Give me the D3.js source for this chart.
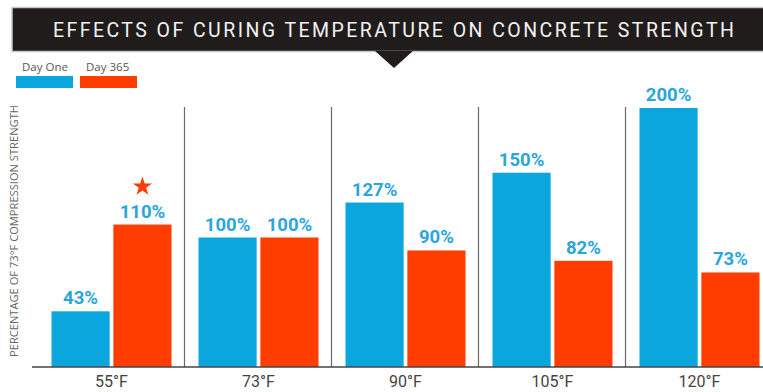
<!DOCTYPE html>
<html>
<head>
<meta charset="utf-8">
<script src="https://cdn.jsdelivr.net/npm/d3@7"></script>
<style>
  html, body { margin: 0; padding: 0; background: #fff; }
  svg { display: block; }
</style>
</head>
<body>
<svg id="chart" width="763" height="392"></svg>
<script>
// Curing temperatures and strength relative to a 73°F cure
const categories = ["55°F", "73°F", "90°F", "105°F", "120°F"];
const dayOne = [43, 100, 127, 150, 200];
const day365 = [110, 100, 90, 82, 73];
const seriesNames = ["Day One", "Day 365"];
const starredIndex = 0; // day-365 bar that gets the star marker

const titleText = "EFFECTS OF CURING TEMPERATURE ON CONCRETE STRENGTH";
const yAxisTitle = "PERCENTAGE OF 73°F COMPRESSION STRENGTH";

const blue = "#0ba6de";
const red = "#ff3d00";
const labelBlue = "#2aa6dc";

const svg = d3.select("#chart");

// Title banner with pointer
const banner = svg.append("g");
banner.append("rect")
  .attr("x", 12).attr("y", 7.5).attr("width", 760).attr("height", 44)
  .attr("fill", "#201c1c").attr("stroke", "#c9c9c9").attr("stroke-width", 1.5);
banner.append("path")
  .attr("d", d3.line()([[375, 51], [413, 51], [394, 68]]))
  .attr("fill", "#201c1c");
banner.append("text")
  .attr("x", 53).attr("y", 37)
  .attr("textLength", 681).attr("lengthAdjust", "spacing")
  .attr("font-family", "Roboto, sans-serif").attr("font-size", 19.5)
  .attr("fill", "#f2f2f2")
  .text(titleText);

// Legend
const legend = svg.append("g");
[[16, blue], [80, red]].forEach(([x, c], i) => {
  legend.append("rect").attr("x", x).attr("y", 76).attr("width", 57).attr("height", 12).attr("fill", c);
  legend.append("text").attr("x", x + 6).attr("y", 71)
    .attr("font-family", "'Open Sans', sans-serif").attr("font-size", 11.5)
    .attr("fill", "#555").text(seriesNames[i]);
});

// Scales
const x = d3.scaleBand().domain(categories).range([38, 773]);
const y = d3.scaleLinear().domain([0, 200]).range([367, 108]);
const inner = d3.scaleBand().domain(seriesNames).range([-60, 60]).paddingInner(0.06);

// Group separators
svg.append("g").selectAll("line")
  .data(categories.slice(1))
  .join("line")
  .attr("x1", d => x(d) - 0.5).attr("x2", d => x(d) - 0.5)
  .attr("y1", 107).attr("y2", 367)
  .attr("stroke", "#6a6a6a").attr("stroke-width", 1.2);

// Bars and value labels
const rows = categories.map((c, i) => [
  { cat: c, s: seriesNames[0], v: dayOne[i], color: blue, i },
  { cat: c, s: seriesNames[1], v: day365[i], color: red, i }
]).flat();

const barX = d => x(d.cat) + x.bandwidth() / 2 + inner(d.s);

svg.append("g").selectAll("rect")
  .data(rows)
  .join("rect")
  .attr("x", barX)
  .attr("width", inner.bandwidth())
  .attr("y", d => y(d.v))
  .attr("height", d => y(0) - y(d.v))
  .attr("fill", d => d.color);

svg.append("g").selectAll("text")
  .data(rows)
  .join("text")
  .attr("x", d => barX(d) + inner.bandwidth() / 2)
  .attr("y", d => y(d.v) - 7)
  .attr("text-anchor", "middle")
  .attr("font-family", "Roboto, sans-serif").attr("font-weight", 700)
  .attr("font-size", 18.5)
  .attr("fill", labelBlue)
  .text(d => d.v + "%");

// Star over the highlighted bar
const starred = rows.find(d => d.i === starredIndex && d.s === seriesNames[1]);
svg.append("path")
  .attr("d", d3.symbol(d3.symbolStar, 115)())
  .attr("transform", `translate(${barX(starred) + inner.bandwidth() / 2},${y(starred.v) - 38})`)
  .attr("fill", red);

// Baseline and category labels
svg.append("line")
  .attr("x1", 32).attr("x2", 763).attr("y1", 367).attr("y2", 367)
  .attr("stroke", "#444").attr("stroke-width", 1.5);

const xAxis = svg.append("g")
  .attr("transform", "translate(0,367)")
  .call(d3.axisBottom(x).tickSize(0).tickPadding(9));
xAxis.select(".domain").remove();
xAxis.selectAll("text")
  .attr("dy", "0.71em")
  .attr("font-family", "Roboto, sans-serif").attr("font-size", 16)
  .attr("fill", "#444");

// Vertical axis title
svg.append("text")
  .attr("transform", "translate(18,231) rotate(-90)")
  .attr("text-anchor", "middle")
  .attr("textLength", 252).attr("lengthAdjust", "spacingAndGlyphs")
  .attr("font-family", "'Open Sans', sans-serif").attr("font-size", 10.5)
  .attr("fill", "#666")
  .text(yAxisTitle);
</script>
</body>
</html>
